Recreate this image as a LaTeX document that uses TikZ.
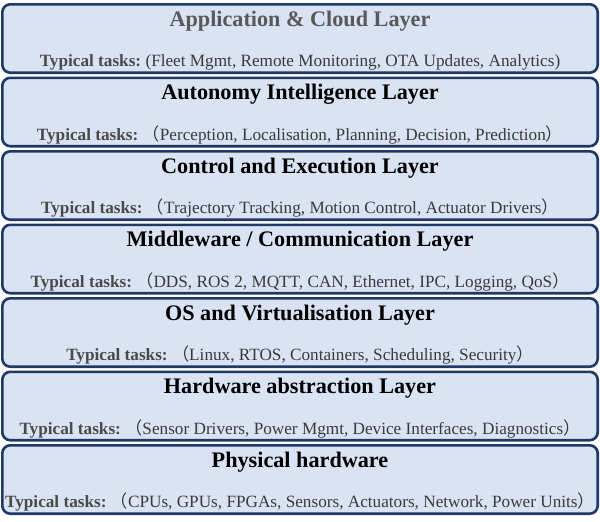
\documentclass[tikz,border=0pt]{standalone}
\usepackage{fontspec}
\setmainfont{Liberation Serif}
\newfontfamily\cjkfont{Noto Sans CJK SC}
\definecolor{layerfill}{HTML}{DAE3F3}
\definecolor{layerdraw}{HTML}{1F3864}
\definecolor{greytitle}{HTML}{595959}
\definecolor{tasklabel}{HTML}{4A4A4A}
\definecolor{tasktext}{HTML}{3A3A3A}
\newcommand{\lp}{{\cjkfont （}}
\newcommand{\rp}{{\cjkfont ）}}
\newcommand{\tl}{\textbf{\color{tasklabel}Typical tasks:}}
\tikzset{
  layer/.style={draw=layerdraw, fill=layerfill, line width=2.6pt, rounded corners=8pt,
    minimum width=595.4pt, minimum height=68.4pt, inner sep=0pt},
  layertitle/.style={anchor=base, inner sep=0pt, font=\fontsize{22.2}{26}\selectfont\bfseries},
  layertask/.style={anchor=base, inner sep=0pt, text=tasktext, font=\fontsize{17.2}{20}\selectfont}
}
\begin{document}
\begin{tikzpicture}[x=1pt,y=-1pt]
\useasboundingbox (0,0) rectangle (600,522);
\foreach \i/\ttl/\col/\sub in {
 1/{Application \& Cloud Layer}/greytitle/{\tl\ (Fleet Mgmt, Remote Monitoring, OTA Updates, Analytics)},
 2/{Autonomy Intelligence Layer}/black/{\tl\ \lp Perception, Localisation, Planning, Decision, Prediction\rp},
 3/{Control and Execution Layer}/black/{\tl\ \lp Trajectory Tracking, Motion Control, Actuator Drivers\rp},
 4/{Middleware / Communication Layer}/black/{\tl\ \lp DDS, ROS 2, MQTT, CAN, Ethernet, IPC, Logging, QoS\rp},
 5/{OS and Virtualisation Layer}/black/{\tl\ \lp Linux, RTOS, Containers, Scheduling, Security\rp},
 6/{Hardware abstraction Layer}/black/{\tl\ \lp Sensor Drivers, Power Mgmt, Device Interfaces, Diagnostics\rp},
 7/{Physical hardware}/black/{\tl\ \lp CPUs, GPUs, FPGAs, Sensors, Actuators, Network, Power Units\rp}}{
  \pgfmathsetmacro{\ytop}{3+73.5*(\i-1)}
  \node[layer] (L\i) at (300,\ytop+35.5) {};
  \node[layertitle, text=\col] (T\i) at (300,\ytop+23.2) {\ttl};
  \node[layertask] (S\i) at (300,\ytop+63.5) {\sub};
}
\end{tikzpicture}
\end{document}
